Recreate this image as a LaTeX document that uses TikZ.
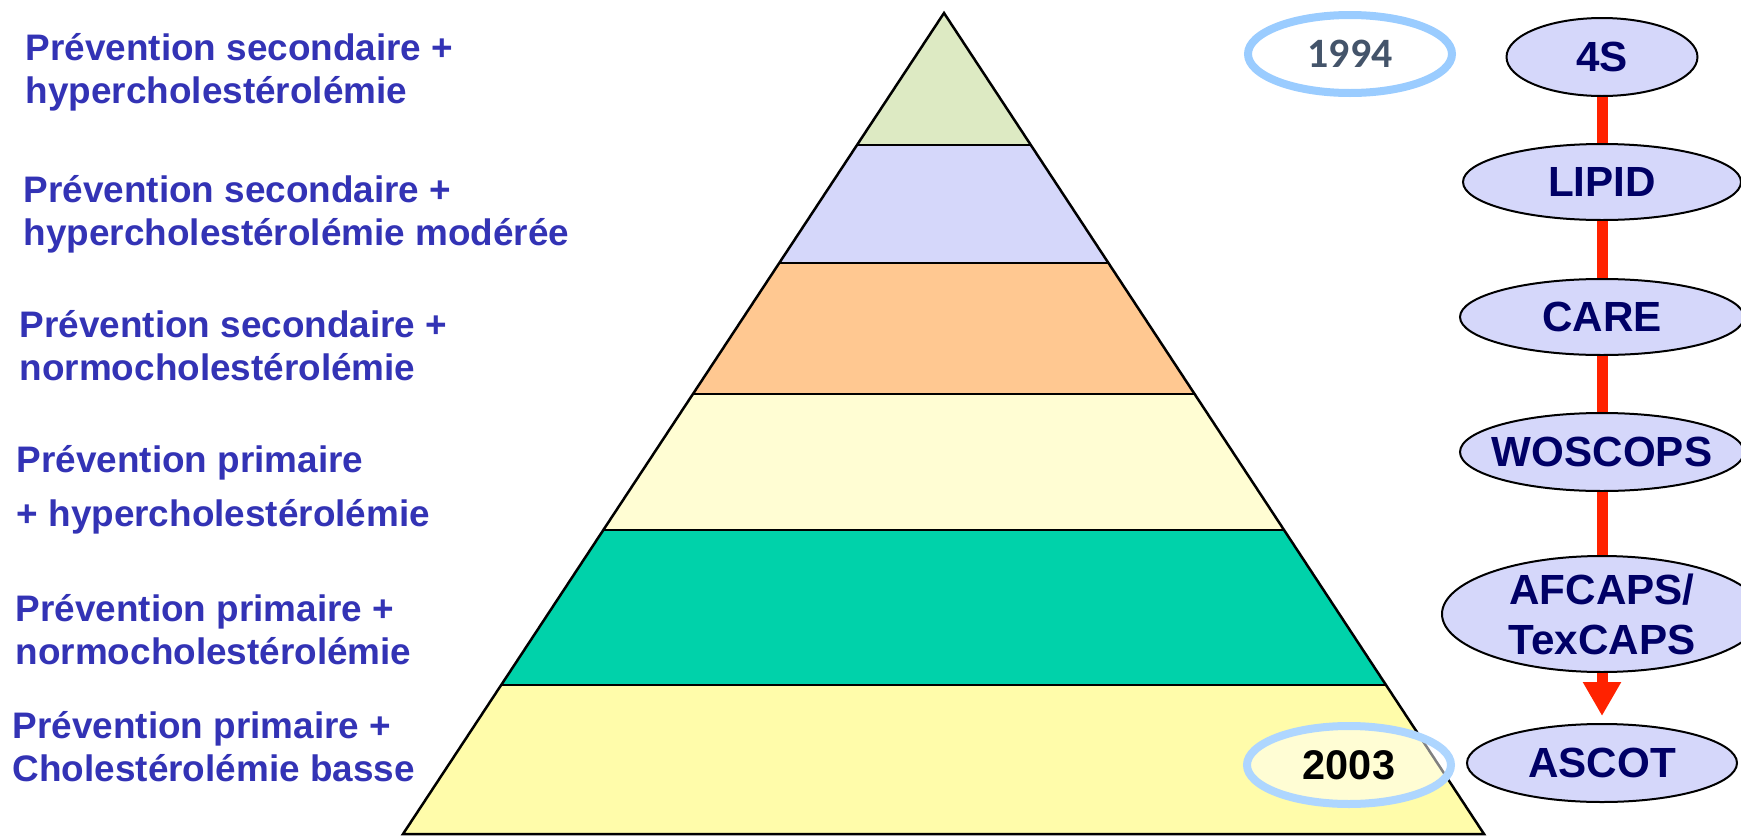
\documentclass[tikz,border=0pt]{standalone}
\usepackage{fontspec}
\setmainfont{Liberation Sans}
\newfontfamily\yearfont{Carlito}
\usetikzlibrary{arrows.meta,shapes.geometric}
\definecolor{prevblue}{HTML}{3333B5}
\definecolor{trialink}{HTML}{000066}
\definecolor{trialfill}{HTML}{D5D7FA}
\definecolor{linkred}{HTML}{FF2200}
\definecolor{ringblue}{HTML}{9ACCFF}
\definecolor{yearink}{HTML}{44546A}
\definecolor{layerA}{HTML}{DDEAC3}
\definecolor{layerB}{HTML}{D5D7FA}
\definecolor{layerC}{HTML}{FFC891}
\definecolor{layerD}{HTML}{FFFDD3}
\definecolor{layerE}{HTML}{00D2AA}
\definecolor{layerF}{HTML}{FFFCAA}
\tikzset{
  prevtext/.style={anchor=base west,inner sep=0pt,align=left,text=prevblue,
                   font=\fontsize{10.5}{12.2}\selectfont\bfseries},
  trial/.style   ={ellipse,draw=black,line width=0.2mm,fill=trialfill,text=trialink,
                   inner sep=-1mm,align=center,font=\fontsize{12}{14.2}\selectfont\bfseries},
  yearring/.style={ellipse,draw=ringblue,line width=0.8mm,inner sep=0pt,
                   minimum width=20.4mm,minimum height=7.8mm},
  link/.style    ={line width=1.1mm,draw=linkred},
  pyr/.style     ={line width=0.25mm,draw=black}
}
\begin{document}
\begin{tikzpicture}[x=0.1mm,y=-0.1mm]
    \clip (0,0) rectangle (1741,836);
    % pyramid
    \coordinate (apex) at (944,13);
    \coordinate (baseL) at (403,834);
    \coordinate (baseR) at (1484,834);
    \begin{scope}
      \clip (apex) -- (baseL) -- (baseR) -- cycle;
      \foreach \ya/\yb/\col in {0/145/layerA,145/263/layerB,263/394/layerC,
                                394/530/layerD,530/685/layerE,685/840/layerF}
        \fill[\col] (380,\ya) rectangle (1500,\yb);
      \foreach \y in {145,263,394,530,685}
        \draw[pyr] (380,\y) -- (1500,\y);
    \end{scope}
    \draw[pyr] (apex) -- (baseL) -- (baseR) -- cycle;
    % prevention levels (anchored on the last line)
    \node[prevtext] (secHyper) at (25,103) {Prévention secondaire +\\hypercholestérolémie};
    \node[prevtext] (secMod) at (23,245) {Prévention secondaire +\\hypercholestérolémie modérée};
    \node[prevtext] (secNorm) at (19,380) {Prévention secondaire +\\normocholestérolémie};
    \node[prevtext] (primHyper) at (16,526) {Prévention primaire\\[1.1mm]+ hypercholestérolémie};
    \node[prevtext] (primNorm) at (15,664) {Prévention primaire +\\normocholestérolémie};
    \node[prevtext] (primLow) at (12,781) {Prévention primaire +\\Cholestérolémie basse};
    % years
    \node[yearring,text=yearink,font=\yearfont\bfseries\fontsize{11.9}{14}\selectfont] (y1994) at (1350,54) {1994};
    \node[yearring,draw=ringblue!80,fill=white,fill opacity=0.5,text opacity=1,
          font=\fontsize{11.8}{14}\selectfont\bfseries] (y2003) at (1349,765) {2003};
    % trials
    \node[trial,minimum width=19.1mm,minimum height=7.8mm] (t4s) at (1602,57) {4S};
    \node[trial,minimum width=27.8mm,minimum height=7.6mm] (tlipid) at (1602,182) {LIPID};
    \node[trial,minimum width=28.4mm,minimum height=7.6mm] (tcare) at (1602,317) {CARE};
    \node[trial,minimum width=28.4mm,minimum height=7.8mm] (twoscops) at (1602,452) {WOSCOPS};
    \node[trial,minimum width=32mm,minimum height=11.6mm] (tafcaps) at (1602,614) {AFCAPS/\\TexCAPS};
    \node[trial,minimum width=27mm,minimum height=7.8mm] (tascot) at (1602,763) {ASCOT};
    \foreach \a/\b in {t4s/tlipid,tlipid/tcare,tcare/twoscops,twoscops/tafcaps}
      \draw[link] (\a.south) -- (\b.north);
    \draw[link,-{Triangle[length=3.4mm,width=3.6mm]},shorten >=0.7mm] (tafcaps.south) -- (tascot.north);
  \end{tikzpicture}
\end{document}
